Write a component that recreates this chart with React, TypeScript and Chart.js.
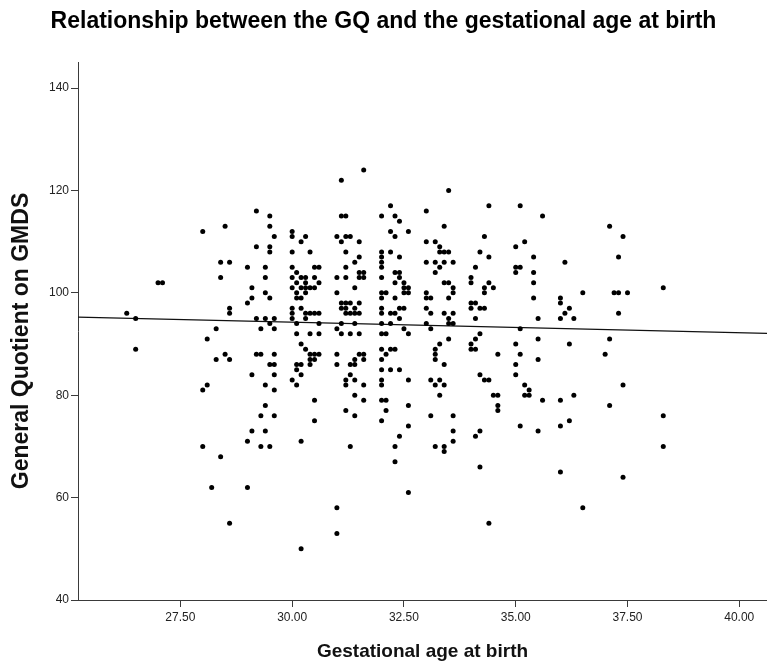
import { useEffect, useRef } from "react";
import { Chart, registerables } from "chart.js";

Chart.register(...registerables);

const TITLE = "Relationship between the GQ and the gestational age at birth";
const X_TITLE = "Gestational age at birth";
const Y_TITLE = "General Quotient on GMDS";

const X_MIN = 25.21;
const X_MAX = 40.62;
const Y_MIN = 40;
const Y_MAX = 145.1;
const X_TICKS = [27.5, 30, 32.5, 35, 37.5, 40];
const Y_TICKS = [40, 60, 80, 100, 120, 140];

// Gestational age at birth (weeks.days) and the GQ scores recorded at each age
const AGES = [
  26.3, 26.5, 27.0, 27.1,
  28.0, 28.1, 28.2, 28.3, 28.4, 28.5, 28.6,
  29.0, 29.1, 29.2, 29.3, 29.4, 29.5, 29.6,
  30.0, 30.1, 30.2, 30.3, 30.4, 30.5, 30.6,
  31.0, 31.1, 31.2, 31.3, 31.4, 31.5, 31.6,
  32.0, 32.1, 32.2, 32.3, 32.4, 32.5, 32.6,
  33.0, 33.1, 33.2, 33.3, 33.4, 33.5, 33.6,
  34.0, 34.1, 34.2, 34.3, 34.4, 34.5, 34.6,
  35.0, 35.1, 35.2, 35.3, 35.4, 35.5, 35.6,
  36.0, 36.1, 36.2, 36.3, 36.5,
  37.0, 37.1, 37.2, 37.3, 37.4, 37.5,
  38.3,
];

const GQ_BY_AGE = [
  [96], [95, 89], [102], [102],
  [112, 81, 70], [91, 82], [62], [93, 87], [106, 103, 68], [113, 88], [106, 97, 96, 87, 55],
  [105, 98, 71, 62], [101, 99, 84, 73], [116, 109, 95, 88], [93, 88, 76, 70],
  [105, 103, 100, 95, 82, 78, 73], [115, 113, 109, 108, 99, 94, 86, 70], [111, 95, 93, 88, 86, 84, 81, 76],
  [112, 111, 108, 105, 103, 101, 97, 96, 95, 83], [104, 102, 100, 99, 94, 92, 86, 85, 82],
  [110, 103, 101, 99, 97, 90, 86, 84, 71, 50], [111, 103, 102, 101, 100, 96, 95, 89],
  [108, 101, 96, 92, 88, 87, 86], [105, 103, 101, 96, 88, 87, 79, 75], [105, 102, 96, 94, 92, 88],
  [111, 103, 100, 93, 88, 86, 58, 53], [122, 115, 110, 98, 97, 94, 92],
  [115, 111, 108, 105, 103, 98, 97, 96, 83, 82, 77], [111, 98, 96, 92, 86, 84, 70],
  [106, 101, 97, 96, 94, 87, 86, 83, 80, 76], [110, 107, 104, 103, 98, 96, 92, 88], [124, 104, 103, 88, 87, 82, 79],
  [115, 108, 107, 106, 105, 103, 100, 99, 97, 96, 94, 92, 89, 87, 85, 83, 82, 79, 75], [100, 92, 88, 79, 77],
  [117, 112, 108, 96, 94, 89, 85], [115, 111, 104, 102, 99, 96, 89, 70, 67], [114, 107, 104, 103, 97, 95, 85, 72],
  [102, 101, 100, 97, 93], [112, 101, 100, 92, 83, 78, 74, 61],
  [116, 110, 106, 100, 99, 97, 94], [99, 96, 93, 83, 76], [110, 106, 104, 89, 88, 87, 82, 70],
  [109, 108, 105, 90, 83, 80], [113, 108, 106, 102, 96, 86, 82, 70, 69], [120, 108, 102, 99, 95, 94, 91],
  [106, 101, 100, 96, 94, 76, 73, 71],
  [103, 102, 98, 97, 90, 89], [105, 98, 95, 91, 89, 72], [108, 97, 92, 84, 73, 66], [111, 101, 100, 97, 83],
  [117, 107, 102, 83, 55], [101, 80], [88, 80, 78, 77],
  [109, 105, 104, 90, 86, 84], [117, 105, 93, 88, 74], [110, 82, 80], [81, 80], [107, 104, 102, 99],
  [95, 91, 87, 73], [115, 79],
  [99, 98, 95, 79, 74, 65], [106, 96], [97, 90, 75], [95, 80], [100, 58],
  [88], [113, 91, 78], [100], [107, 100, 96], [111, 82, 64], [100],
  [101, 76, 70],
];

// Linear fit line end points (age, GQ)
const FIT_X = [25.21, 40.62];
const FIT_Y = [95.25, 92.1];

const FONT = "'Liberation Sans', Arial, Helvetica, sans-serif";
const AXIS_COLOR = "#3a3a3a";

// Vertical axis title, drawn beside the y axis a little below its midpoint
const yTitlePlugin = {
  id: "yTitle",
  afterDraw(chart: any) {
    const { ctx, chartArea } = chart;
    ctx.save();
    ctx.translate(22, (chartArea.top + chartArea.bottom) / 2 + 10);
    ctx.rotate(-Math.PI / 2);
    ctx.font = `bold 23px ${FONT}`;
    ctx.fillStyle = "#111";
    ctx.textAlign = "center";
    ctx.textBaseline = "middle";
    ctx.fillText(Y_TITLE, 0, 0);
    ctx.restore();
  },
};

export default function App() {
  const canvasRef = useRef<HTMLCanvasElement | null>(null);

  useEffect(() => {
    document.body.style.margin = "0";
    const canvas = canvasRef.current;
    if (!canvas) return;

    const points: { x: number; y: number }[] = [];
    AGES.forEach((age, i) => {
      GQ_BY_AGE[i].forEach((gq) => points.push({ x: age, y: gq }));
    });
    const fit = FIT_X.map((x, i) => ({ x, y: FIT_Y[i] }));

    const chart = new Chart(canvas, {
      type: "scatter",
      data: {
        datasets: [
          {
            type: "line",
            data: fit,
            borderColor: "#111",
            borderWidth: 1.3,
            pointRadius: 0,
            fill: false,
            order: 2,
          },
          {
            type: "scatter",
            data: points,
            backgroundColor: "#000",
            borderWidth: 0,
            pointRadius: 2.5,
            order: 1,
          },
        ],
      },
      plugins: [yTitlePlugin],
      options: {
        responsive: false,
        animation: false,
        events: [],
        layout: { padding: 0, autoPadding: false },
        plugins: {
          legend: { display: false },
          tooltip: { enabled: false },
          title: {
            display: true,
            text: TITLE,
            color: "#000",
            font: { family: FONT, size: 23, weight: "bold" },
            padding: { top: 8.2, bottom: 26.2 },
          },
        },
        scales: {
          x: {
            type: "linear",
            min: X_MIN,
            max: X_MAX,
            afterBuildTicks: (axis: any) => {
              axis.ticks = X_TICKS.map((v) => ({ value: v }));
            },
            afterFit: (axis: any) => {
              axis.height = 70;
              axis.paddingLeft = 0;
              axis.paddingRight = 0;
            },
            grid: {
              drawOnChartArea: false,
              drawTicks: true,
              tickLength: 7,
              color: AXIS_COLOR,
            },
            border: { display: true, color: AXIS_COLOR, width: 1 },
            ticks: {
              color: "#222",
              padding: 3,
              maxRotation: 0,
              autoSkip: false,
              font: { family: FONT, size: 12 },
              callback: (v: any) => Number(v).toFixed(2),
            },
            title: {
              display: true,
              text: X_TITLE,
              color: "#111",
              font: { family: FONT, size: 19, weight: "bold" },
              padding: { top: 0, bottom: 7 },
            },
          },
          y: {
            type: "linear",
            min: Y_MIN,
            max: Y_MAX,
            afterBuildTicks: (axis: any) => {
              axis.ticks = Y_TICKS.map((v) => ({ value: v }));
            },
            afterFit: (axis: any) => {
              axis.width = 78;
            },
            grid: {
              drawOnChartArea: false,
              drawTicks: true,
              tickLength: 7,
              color: AXIS_COLOR,
            },
            border: { display: true, color: AXIS_COLOR, width: 1 },
            ticks: {
              color: "#222",
              padding: 2,
              autoSkip: false,
              font: { family: FONT, size: 12 },
              callback: (v: any) => String(v),
            },
            title: { display: false },
          },
        },
      },
    });

    return () => chart.destroy();
  }, []);

  return (
    <div style={{ width: 767, height: 670, background: "#fff" }}>
      <canvas ref={canvasRef} width={767} height={670} style={{ display: "block" }} />
    </div>
  );
}
